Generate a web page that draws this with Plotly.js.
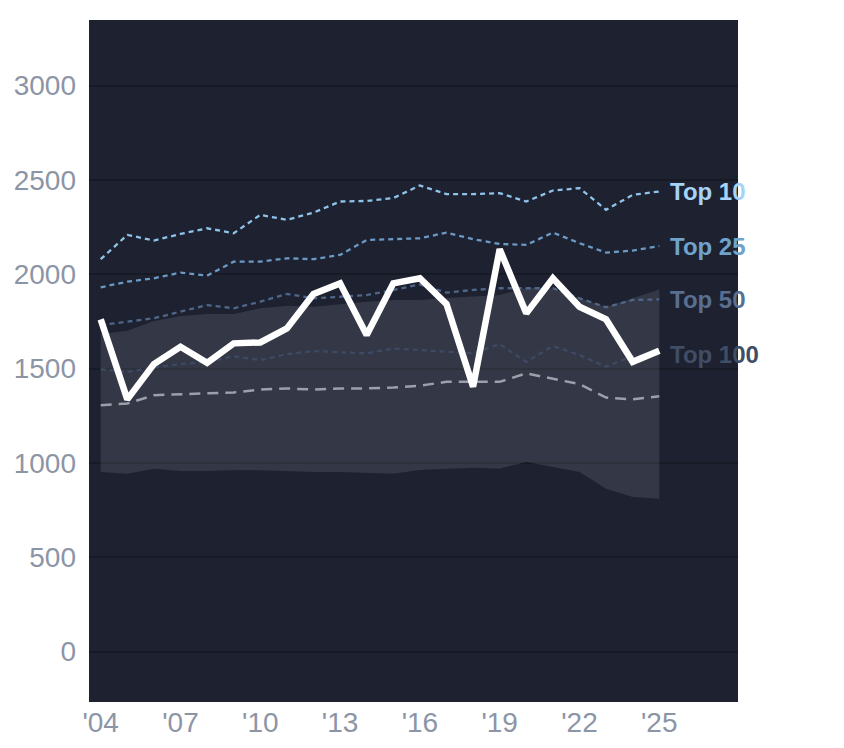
<!DOCTYPE html>
<html>
<head>
<meta charset="utf-8">
<script src="https://cdn.plot.ly/plotly-3.0.1.min.js"></script>
<style>
  html, body { margin: 0; padding: 0; background: #ffffff; }
  #chart { width: 844px; height: 748px; }
</style>
</head>
<body>
<div id="chart"></div>
<script>
// ── Data ────────────────────────────────────────────────────────

const years = [2004, 2005, 2006, 2007, 2008, 2009, 2010, 2011, 2012, 2013, 2014,
               2015, 2016, 2017, 2018, 2019, 2020, 2021, 2022, 2023, 2024, 2025];

const mainSeries = [1761, 1337, 1524, 1616, 1531, 1634, 1639, 1713, 1896, 1952, 1678,
                    1952, 1979, 1842, 1404, 2133, 1793, 1979, 1828, 1761, 1536, 1595];

const top10  = [2080, 2209, 2179, 2214, 2244, 2218, 2315, 2289, 2327, 2386, 2389,
                2404, 2471, 2425, 2425, 2430, 2386, 2444, 2457, 2342, 2421, 2439];
const top25  = [1931, 1961, 1979, 2009, 1993, 2067, 2067, 2085, 2080, 2103, 2182,
                2188, 2191, 2221, 2186, 2161, 2156, 2221, 2165, 2115, 2126, 2150];
const top50  = [1731, 1749, 1767, 1802, 1837, 1820, 1855, 1896, 1873, 1881, 1890,
                1917, 1946, 1903, 1917, 1926, 1926, 1926, 1873, 1825, 1864, 1867];
const top100 = [1496, 1483, 1506, 1524, 1536, 1566, 1545, 1577, 1593, 1588, 1581,
                1607, 1598, 1589, 1581, 1630, 1536, 1620, 1572, 1510, 1566, 1575];

const median = [1306, 1315, 1359, 1365, 1372, 1374, 1389, 1395, 1389, 1395, 1395,
                1400, 1410, 1430, 1430, 1430, 1475, 1448, 1418, 1347, 1337, 1354];

const bandLow  = [952, 943, 970, 957, 957, 962, 962, 956, 952, 952, 947,
                  943, 963, 970, 975, 970, 1005, 979, 952, 864, 820, 811];
const bandHigh = [1683, 1701, 1752, 1779, 1789, 1789, 1820, 1834, 1828, 1842, 1855,
                  1864, 1864, 1875, 1881, 1890, 1929, 1926, 1873, 1828, 1873, 1920];

const tickYears = [2004, 2007, 2010, 2013, 2016, 2019, 2022, 2025];
const tickText  = ["'04", "'07", "'10", "'13", "'16", "'19", "'22", "'25"];

const labelNames = ['Top 10', 'Top 25', 'Top 50', 'Top 100'];

// ── Theme ────────────────────────────────────────────────────────

const THEME = {
  plot: '#1d2130',
  grid: '#161a25',
  tick: '#8c95a6',
  band: 'rgba(255,255,255,0.1)',
  top10: '#8fc3ea',
  top25: '#6b9ac4',
  top50: '#4e6688',
  top100: '#3d4a63',
  median: '#9ca0aa',
  main: '#ffffff',
};

const LABEL_COLORS = ['#a6d3f6', '#6fa3cc', '#586f90', '#414d64'];
const FONT = 'Arial, "Liberation Sans", sans-serif';

// ── Traces ───────────────────────────────────────────────────────

const dotted = (y, color, name) => ({
  x: years, y,
  type: 'scatter', mode: 'lines',
  name,
  line: { color, width: 2.3, dash: '5px,4px' },
  hoverinfo: 'skip',
});

const traces = [
  {
    x: years, y: bandLow,
    type: 'scatter', mode: 'lines',
    line: { width: 0, color: 'rgba(0,0,0,0)' },
    hoverinfo: 'skip',
  },
  {
    x: years, y: bandHigh,
    type: 'scatter', mode: 'lines',
    fill: 'tonexty',
    fillcolor: THEME.band,
    line: { width: 0, color: 'rgba(0,0,0,0)' },
    hoverinfo: 'skip',
  },
  dotted(top100, THEME.top100, 'Top 100'),
  {
    x: years, y: median,
    type: 'scatter', mode: 'lines',
    line: { color: THEME.median, width: 2.5, dash: '11px,7px' },
    hoverinfo: 'skip',
  },
  dotted(top50, THEME.top50, 'Top 50'),
  dotted(top25, THEME.top25, 'Top 25'),
  dotted(top10, THEME.top10, 'Top 10'),
  {
    x: years, y: mainSeries,
    type: 'scatter', mode: 'lines',
    line: { color: THEME.main, width: 6.5 },
  },
];

// labels sit at the last value of each tier line
const lastIdx = years.length - 1;
const tierEnds = [top10[lastIdx], top25[lastIdx], top50[lastIdx], top100[lastIdx]];

const annotations = labelNames.map((text, i) => ({
  x: years[lastIdx], y: tierEnds[i],
  xref: 'x', yref: 'y',
  text,
  showarrow: false,
  xanchor: 'left', yanchor: 'middle',
  xshift: 9,
  font: { family: FONT, size: 24, color: LABEL_COLORS[i], weight: 'bold' },
}));

const layout = {
  width: 844,
  height: 748,
  paper_bgcolor: '#ffffff',
  plot_bgcolor: THEME.plot,
  showlegend: false,
  margin: { l: 89, r: 106, t: 20, b: 46 },
  font: { family: FONT, color: THEME.tick, size: 28 },
  xaxis: {
    range: [2003.56, 2027.96],
    tickvals: tickYears,
    ticktext: tickText,
    showgrid: false,
    zeroline: false,
    showline: false,
    ticks: '',
    ticklabelstandoff: 1,
    tickfont: { family: FONT, size: 28, color: THEME.tick },
  },
  yaxis: {
    range: [-267, 3348],
    tickvals: [0, 500, 1000, 1500, 2000, 2500, 3000],
    gridcolor: THEME.grid,
    gridwidth: 2,
    zeroline: false,
    showline: false,
    ticks: '',
    ticklabelstandoff: 12,
    tickfont: { family: FONT, size: 28, color: THEME.tick },
  },
  annotations,
};

Plotly.newPlot('chart', traces, layout, { displayModeBar: false, staticPlot: true });
</script>
</body>
</html>
